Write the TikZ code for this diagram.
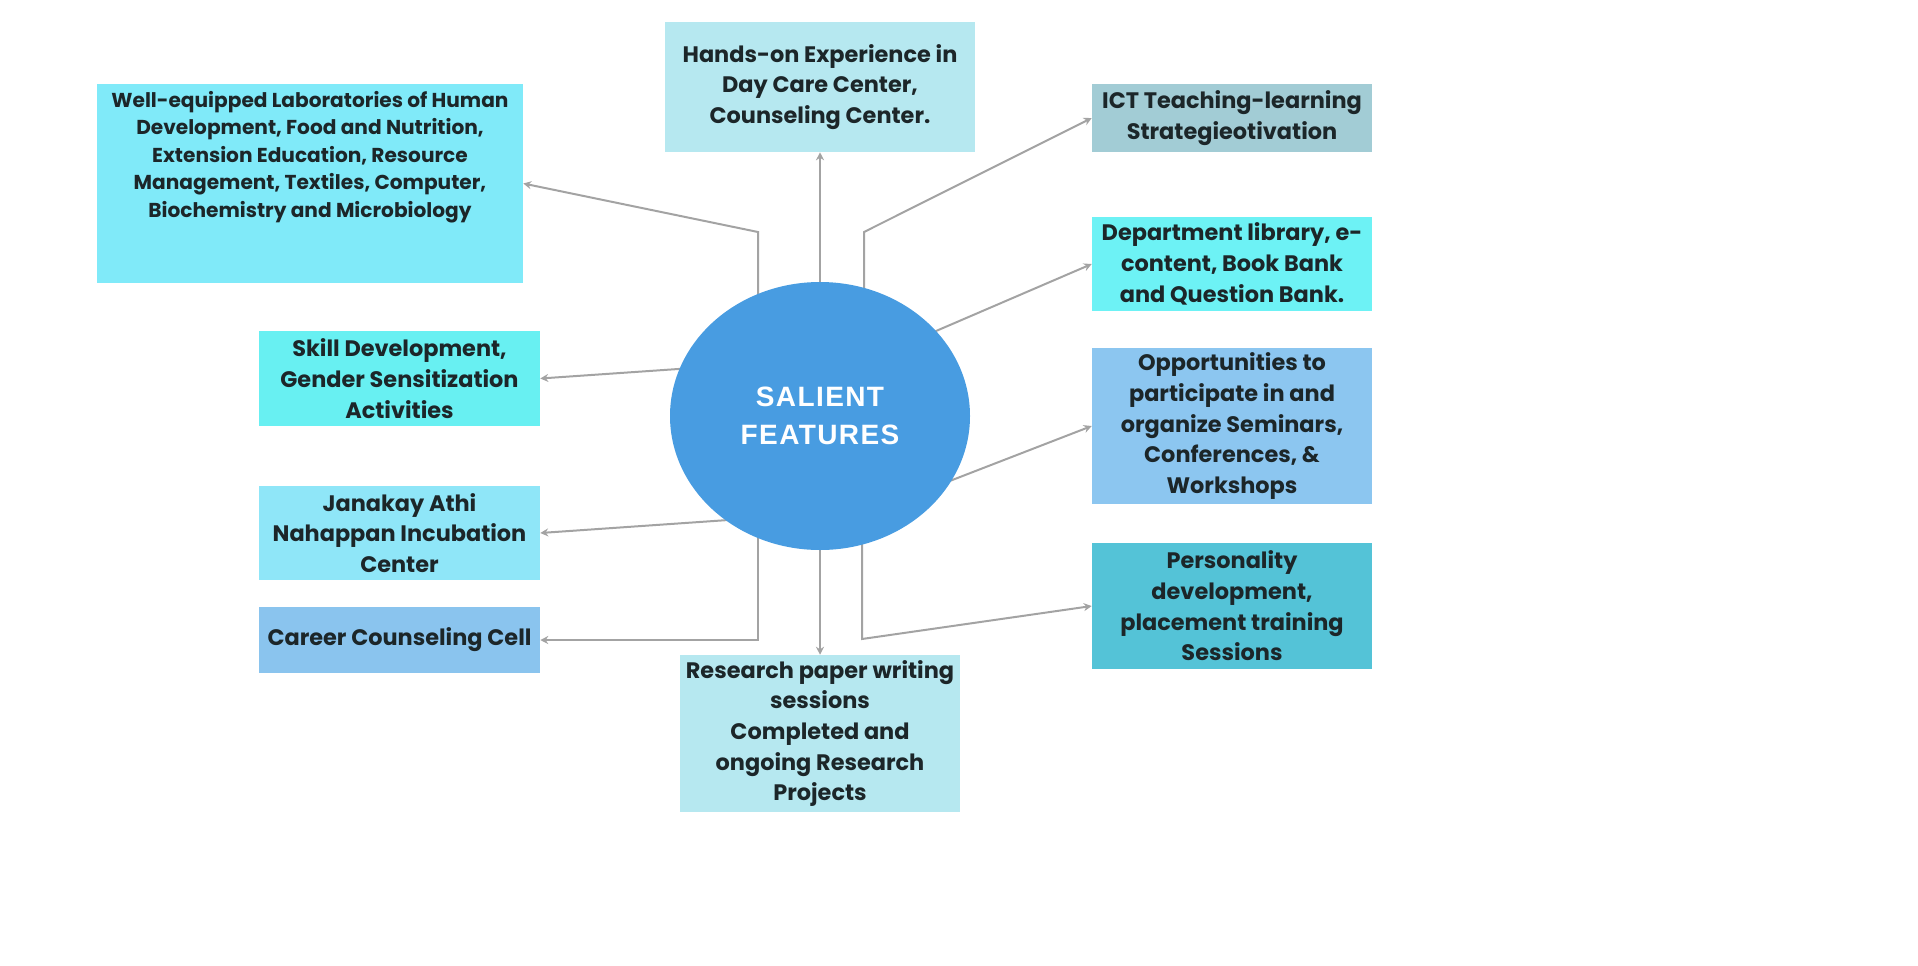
\documentclass[tikz,border=0pt]{standalone}
\usepackage{fontspec}
\setmainfont{Poppins}
\newfontfamily\hubfont{Liberation Sans}[LetterSpace=5]
\usetikzlibrary{arrows.meta,shapes.geometric,backgrounds}
\definecolor{cLab}{HTML}{80EAF9}
\definecolor{cHands}{HTML}{B6E8F0}
\definecolor{cIct}{HTML}{A2CCD5}
\definecolor{cDept}{HTML}{6DF2F5}
\definecolor{cSkill}{HTML}{68F0F2}
\definecolor{cJana}{HTML}{8FE6F8}
\definecolor{cCareer}{HTML}{8AC4EE}
\definecolor{cOpp}{HTML}{8CC6F0}
\definecolor{cPers}{HTML}{54C3D7}
\definecolor{cRes}{HTML}{B6E8F0}
\definecolor{cCirc}{HTML}{489CE1}
\definecolor{cLine}{HTML}{A3A3A3}
\definecolor{cText}{HTML}{1C2629}
\begin{document}
\begin{tikzpicture}[x=0.75pt,y=-0.75pt,
  box/.style={rectangle, inner sep=0pt, align=center, text=cText,
    font=\bfseries\fontsize{16.8}{23}\selectfont},
  labtext/.style={font=\bfseries\fontsize{15.1}{20.6}\selectfont},
  conn/.style={draw=cLine, line width=1.5pt, -{Stealth[length=6pt,width=6pt]}},
  hub/.style={ellipse, fill=cCirc, inner sep=0pt, minimum width=225pt, minimum height=201pt,
    text=white, align=center, font=\hubfont\bfseries\fontsize{21}{28}\selectfont}]
\useasboundingbox (0,0) rectangle (1918,965);
\node[box, labtext, fill=cLab, minimum width=319.5pt, minimum height=149.25pt, text depth=44pt] (lab) at (310,183.5)
  {Well-equipped Laboratories of Human\\Development, Food and Nutrition,\\Extension Education, Resource\\Management, Textiles, Computer,\\Biochemistry and Microbiology};
\node[box, fill=cHands, minimum width=232.5pt, minimum height=97.5pt] (hands) at (820,87)
  {Hands-on Experience in\\Day Care Center,\\Counseling Center.};
\node[box, fill=cIct, minimum width=210pt, minimum height=51pt] (ict) at (1232,118)
  {ICT Teaching-learning\\Strategieotivation};
\node[box, fill=cDept, minimum width=210pt, minimum height=70.5pt] (dept) at (1232,264)
  {Department library, e-\\content, Book Bank\\and Question Bank.};
\node[box, fill=cSkill, minimum width=210.75pt, minimum height=71.25pt] (skill) at (399.5,378.5)
  {Skill Development,\\Gender Sensitization\\Activities};
\node[box, fill=cJana, minimum width=210.75pt, minimum height=70.5pt] (jana) at (399.5,533)
  {Janakay Athi\\Nahappan Incubation\\Center};
\node[box, fill=cCareer, minimum width=210.75pt, minimum height=49.5pt] (career) at (399.5,640)
  {Career Counseling Cell};
\node[box, fill=cOpp, minimum width=210pt, minimum height=117pt] (opp) at (1232,426)
  {Opportunities to\\participate in and\\organize Seminars,\\Conferences, \&\\Workshops};
\node[box, fill=cPers, minimum width=210pt, minimum height=94.5pt] (pers) at (1232,606)
  {Personality\\development,\\placement training\\Sessions};
\node[box, fill=cRes, minimum width=210pt, minimum height=117.75pt] (res) at (820,733.5)
  {Research paper writing\\sessions\\Completed and\\ongoing Research\\Projects};
\node[hub] (circ) at (820,416) {SALIENT\\FEATURES};
\coordinate (bLab) at (758,232);
\coordinate (bIct) at (864,232);
\coordinate (bCar) at (758,640);
\coordinate (bPer) at (862,639);
\coordinate (sDept) at (900,346.5);
\coordinate (sSkill) at (700,367.5);
\coordinate (sOpp) at (920,492.5);
\coordinate (sJana) at (750,518.5);
\begin{scope}[on background layer]
  \draw[conn] (circ.center -| bLab) -- (bLab) -- (lab.east);
  \draw[conn] (circ.center) -- (hands.south);
  \draw[conn] (circ.center -| bIct) -- (bIct) -- (ict.west);
  \draw[conn] (sDept) -- (dept.west);
  \draw[conn] (sSkill) -- (skill.east);
  \draw[conn] (sOpp) -- (opp.west);
  \draw[conn] (sJana) -- (jana.east);
  \draw[conn] (circ.center -| bCar) -- (bCar) -- (career.east);
  \draw[conn] (circ.center) -- (res.north);
  \draw[conn] (circ.center -| bPer) -- (bPer) -- (pers.west);
\end{scope}
\end{tikzpicture}
\end{document}
